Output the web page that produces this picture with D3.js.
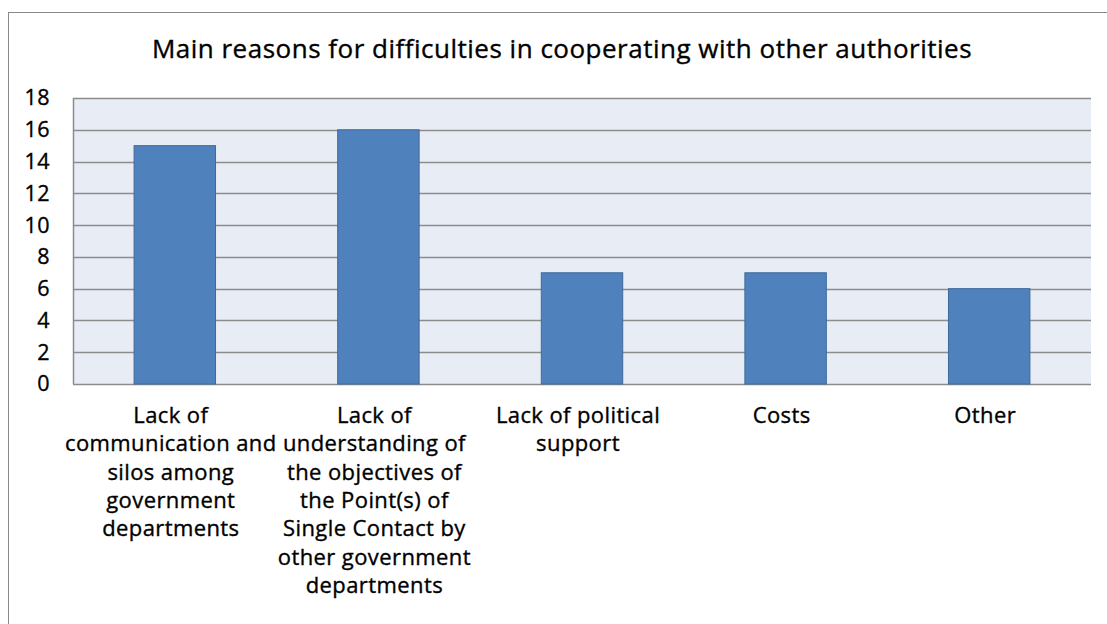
<!DOCTYPE html>
<html>
<head>
<meta charset="utf-8">
<script src="https://cdn.jsdelivr.net/npm/d3@7"></script>
<style>
  body { margin: 0; background: #fff; }
  text { font-family: "Open Sans", Lato, sans-serif; fill: #000; stroke: #000; stroke-width: 0.35px; }
</style>
</head>
<body>
<svg id="chart"></svg>
<script>
// Data
const categories = ["Lack of communication", "Lack of understanding", "Lack of political support", "Costs", "Other"];
const values = [15, 16, 7, 7, 6];
const labelLines = [
  ["Lack of", "communication and", "silos among", "government", "departments"],
  ["Lack of", "understanding of", "the objectives of", "the Point(s) of", "Single Contact by", "other government", "departments"],
  ["Lack of political", "support"],
  ["Costs"],
  ["Other"]
];
const yTicks = [0, 2, 4, 6, 8, 10, 12, 14, 16, 18];
const title = "Main reasons for difficulties in cooperating with other authorities";

const width = 1107, height = 624;
const margin = { top: 98, bottom: 240, left: 73, right: 16 };

const svg = d3.select("#chart")
  .attr("width", width)
  .attr("height", height);

// Chart area border (right and bottom fall outside the picture)
svg.append("rect")
  .attr("x", 8.5)
  .attr("y", 12.5)
  .attr("width", 1200)
  .attr("height", 700)
  .attr("fill", "#fff")
  .attr("stroke", "#8a8a8a");

// Title
svg.append("text")
  .text(title)
  .attr("x", 562)
  .attr("y", 58)
  .attr("text-anchor", "middle")
  .style("font-size", "26px")
  .style("letter-spacing", "0.5px");

// Scales
const x = d3.scaleBand()
  .domain(categories)
  .range([margin.left, width - margin.right]);

const y = d3.scaleLinear()
  .domain([0, 18])
  .range([height - margin.bottom, margin.top]);

// Plot background
svg.append("rect")
  .attr("x", margin.left)
  .attr("y", margin.top)
  .attr("width", width - margin.right - margin.left)
  .attr("height", y(0) - y(18))
  .attr("fill", "#e8ecf4");

// Gridlines
svg.append("g")
  .selectAll("line")
  .data(yTicks)
  .enter()
  .append("line")
  .attr("x1", margin.left)
  .attr("x2", width - margin.right)
  .attr("y1", d => Math.round(y(d)) + 0.5)
  .attr("y2", d => Math.round(y(d)) + 0.5)
  .attr("stroke", "#8c8c8c")
  .attr("stroke-width", 1.5);

// Left axis line
svg.append("line")
  .attr("x1", margin.left + 0.5)
  .attr("x2", margin.left + 0.5)
  .attr("y1", y(18))
  .attr("y2", y(0))
  .attr("stroke", "#8c8c8c")
  .attr("stroke-width", 1.5);

// Y axis labels
const yAxis = svg.append("g")
  .attr("transform", `translate(${margin.left},0)`)
  .call(d3.axisLeft(y).tickValues(yTicks).tickSize(0).tickPadding(23));
yAxis.select(".domain").remove();
yAxis.selectAll("text")
  .style("font-size", "21.5px")
  .style("font-family", "'Open Sans', Lato, sans-serif")
  .style("letter-spacing", "0.5px")
  .attr("fill", "#000");

// Bars: Excel-style gap width 150%
const barW = x.bandwidth() / 2.5;
svg.selectAll(".bar")
  .data(values)
  .enter()
  .append("rect")
  .attr("class", "bar")
  .attr("x", (d, i) => x(categories[i]) + x.bandwidth() / 2 - barW / 2)
  .attr("y", d => y(d))
  .attr("width", barW)
  .attr("height", d => y(0) - y(d))
  .attr("fill", "#4f81bd")
  .attr("stroke", "#3f6a9c")
  .attr("stroke-width", 1);

// Category labels (Excel centres them slightly left of the band)
labelLines.forEach((lines, i) => {
  const t = svg.append("text")
    .attr("text-anchor", "middle")
    .style("font-size", "22px")
    .style("letter-spacing", "0.4px");
  lines.forEach((line, j) => {
    t.append("tspan")
      .attr("x", x(categories[i]) + x.bandwidth() / 2 - 4)
      .attr("y", 423 + j * 28.3)
      .text(line);
  });
});
</script>
</body>
</html>
